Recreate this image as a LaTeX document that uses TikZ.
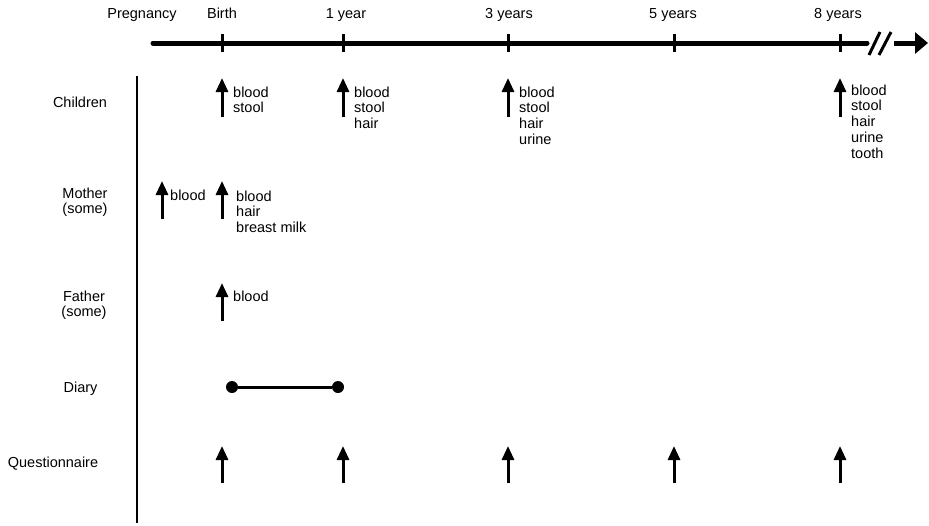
\documentclass[tikz,border=0pt]{standalone}
\usepackage{fontspec}
\setmainfont{Liberation Sans}
\usetikzlibrary{arrows.meta}
\newcommand{\itemlist}[1]{\begin{tabular}[t]{@{}l@{}}#1\end{tabular}}
\newcommand{\ctrlist}[1]{\begin{tabular}[t]{@{}c@{}}#1\end{tabular}}
\tikzset{
  lbl/.style={inner sep=0pt, anchor=base, font=\fontsize{14.5}{15.8}\selectfont},
  lst/.style={inner sep=0pt, anchor=base west, font=\fontsize{14.5}{15.8}\selectfont},
  sample/.style={line width=3pt, -{Triangle[length=14pt,width=12pt]}},
  timeline/.style={line width=5pt},
  tick/.style={line width=3pt},
}
\begin{document}
\begin{tikzpicture}[x=1pt,y=-1pt]
\useasboundingbox (0,0) rectangle (929,525);
% timeline
\coordinate (tlstart) at (153,43);
\coordinate (tlend) at (867,43);
\draw[timeline, line cap=round] (tlstart) -- (tlend);
\foreach \n/\x in {birth/222,y1/343,y3/508,y5/674,y8/840}{
  \coordinate (\n top) at (\x,34);
  \coordinate (\n bot) at (\x,52);
  \draw[tick] (\n top) -- (\n bot);
}
\coordinate (s1a) at (869,55); \coordinate (s1b) at (880,32);
\coordinate (s2a) at (879,55); \coordinate (s2b) at (891,32);
\draw[tick] (s1a) -- (s1b);
\draw[tick] (s2a) -- (s2b);
\coordinate (arra) at (894,43); \coordinate (arrb) at (928,43);
\draw[timeline, -{Triangle[length=13pt,width=21pt]}] (arra) -- (arrb);
% top labels
\node[lbl] (lpreg) at (142,18) {Pregnancy};
\node[lbl] (lbirth) at (222,18) {Birth};
\node[lbl] (l1) at (346,18) {1 year};
\node[lbl] (l3) at (509,18) {3 years};
\node[lbl] (l5) at (673,18) {5 years};
\node[lbl] (l8) at (838,18) {8 years};
% vertical divider
\coordinate (vtop) at (137,76);
\coordinate (vbot) at (137,523);
\draw[line width=2pt] (vtop) -- (vbot);
% row labels
\node[lbl] (rchild) at (80,107) {Children};
\node[lbl] (rmother) at (85,198) {\ctrlist{Mother\\(some)}};
\node[lbl] (rfather) at (84,301) {\ctrlist{Father\\(some)}};
\node[lbl] (rdiary) at (80.5,392) {Diary};
\node[lbl] (rquest) at (53,467) {Questionnaire};
% children
\foreach \n/\x in {cb/222,c1/343,c3/508,c8/840}{
  \coordinate (\n bot) at (\x,117);
  \coordinate (\n top) at (\x,78);
  \draw[sample] (\n bot) -- (\n top);
}
\node[lst] (tcb) at (233,97) {\itemlist{blood\\stool}};
\node[lst] (tc1) at (354,97) {\itemlist{blood\\stool\\hair}};
\node[lst] (tc3) at (519,97) {\itemlist{blood\\stool\\hair\\urine}};
\node[lst] (tc8) at (851,95) {\itemlist{blood\\stool\\hair\\urine\\tooth}};
% mother
\foreach \n/\x in {mp/162,mb/222}{
  \coordinate (\n bot) at (\x,219);
  \coordinate (\n top) at (\x,181);
  \draw[sample] (\n bot) -- (\n top);
}
\node[lst] (tmp) at (170,200) {blood};
\node[lst] (tmb) at (236,201) {\itemlist{blood\\hair\\breast milk}};
% father
\coordinate (fb bot) at (222,321);
\coordinate (fb top) at (222,283);
\draw[sample] (fb bot) -- (fb top);
\node[lst] (tfb) at (233,301) {blood};
% diary
\node[circle, fill, inner sep=0pt, minimum size=12pt] (d1) at (232,387) {};
\node[circle, fill, inner sep=0pt, minimum size=12pt] (d2) at (338,387) {};
\draw[line width=3pt] (d1) -- (d2);
% questionnaire
\foreach \n/\x in {qb/222,q1/343,q3/508,q5/674,q8/840}{
  \coordinate (\n bot) at (\x,483);
  \coordinate (\n top) at (\x,446);
  \draw[sample] (\n bot) -- (\n top);
}
\end{tikzpicture}
\end{document}
